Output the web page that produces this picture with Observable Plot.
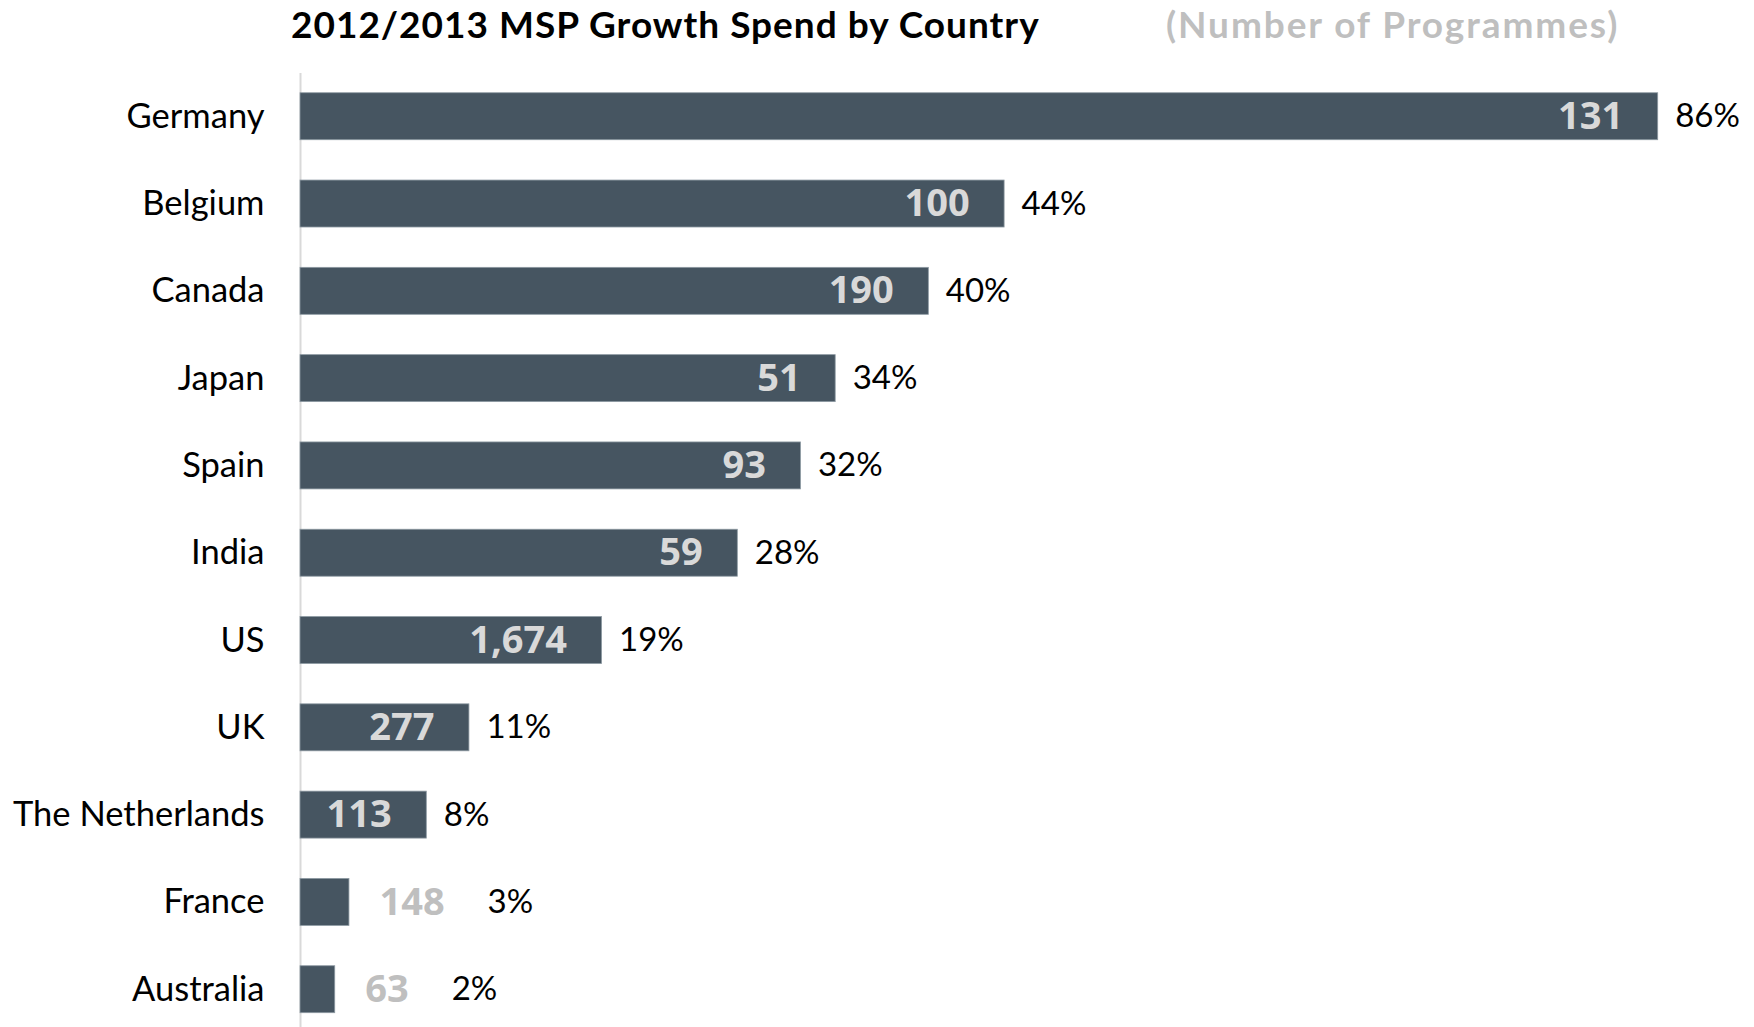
<!DOCTYPE html>
<html>
<head>
<meta charset="utf-8">
<script src="https://cdn.jsdelivr.net/npm/d3@7"></script>
<script src="https://cdn.jsdelivr.net/npm/@observablehq/plot@0.6"></script>
<style>
  html, body { margin: 0; padding: 0; background: #fff; }
  #wrap { position: relative; width: 1754px; height: 1027px; overflow: hidden; font-family: Lato, sans-serif; }
  #head { position: relative; height: 70px; }
  #title { position: absolute; left: 291px; top: 5px; font-size: 37px; line-height: 37px; letter-spacing: 1px; font-weight: bold; color: #000; white-space: nowrap; }
  #subtitle { position: absolute; left: 1166px; top: 5px; font-size: 37px; line-height: 37px; letter-spacing: 1.9px; font-weight: bold; color: #bfbfbf; white-space: nowrap; }
  #chart svg { display: block; }
</style>
</head>
<body>
<div id="wrap">
  <div id="head">
    <div id="title">2012/2013 MSP Growth Spend by Country</div>
    <div id="subtitle">(Number of Programmes)</div>
  </div>
  <div id="chart"></div>
</div>
<script>
const countries = ["Germany", "Belgium", "Canada", "Japan", "Spain", "India", "US", "UK", "The Netherlands", "France", "Australia"];
const growthPct = [86.0, 44.6, 39.8, 33.9, 31.7, 27.7, 19.1, 10.7, 8.0, 3.1, 2.2];
const pctLabels = ["86%", "44%", "40%", "34%", "32%", "28%", "19%", "11%", "8%", "3%", "2%"];
const programmes = [131, 100, 190, 51, 93, 59, 1674, 277, 113, 148, 63];

const fmt = d3.format(",");
const data = countries.map((c, i) => ({
  country: c,
  pct: growthPct[i],
  pctLabel: pctLabels[i],
  count: fmt(programmes[i])
}));

const numFamily = "'Open Sans', sans-serif";
const numSize = 38;
const ctx = document.createElement("canvas").getContext("2d");
ctx.font = `bold ${numSize}px 'Open Sans', sans-serif`;

const inside = data.filter(d => d.pct >= 5);
const outside = data.filter(d => d.pct < 5);

const chart = Plot.plot({
  width: 1754,
  height: 957,
  marginLeft: 300,
  marginRight: 0,
  marginTop: 3,
  marginBottom: 0,
  style: { fontFamily: "Lato, sans-serif", color: "#000", background: "#fff" },
  x: { domain: [0, 92.1], axis: null },
  y: { domain: countries, paddingInner: 0.462, paddingOuter: 0.195, align: 0.58, round: false, axis: null },
  marks: [
    Plot.ruleX([0], { stroke: "#d9d9d9", strokeWidth: 2 }),
    Plot.barX(data, { x: "pct", y: "country", fill: "#465561", stroke: "#8d99a2", strokeWidth: 0.8 }),
    Plot.axisY({ tickSize: 0, tickPadding: 36, fontSize: 34.5, fill: "#000", label: null }),
    Plot.text(inside, { x: "pct", y: "country", text: "count", textAnchor: "end", dx: -35, fill: "#d9d9d9", fontFamily: numFamily, fontWeight: "bold", fontSize: numSize }),
    Plot.text(inside, { x: "pct", y: "country", text: "pctLabel", textAnchor: "start", dx: 17, fill: "#000", fontSize: 33 }),
    Plot.text(outside, { x: "pct", y: "country", text: "count", textAnchor: "start", dx: 30, fill: "#bfbfbf", fontFamily: numFamily, fontWeight: "bold", fontSize: numSize }),
    ...outside.map(d => Plot.text([d], { x: "pct", y: "country", text: "pctLabel", textAnchor: "start", dx: 30 + ctx.measureText(d.count).width + 43, fill: "#000", fontSize: 33 }))
  ]
});
document.getElementById("chart").appendChild(chart);
</script>
</body>
</html>
